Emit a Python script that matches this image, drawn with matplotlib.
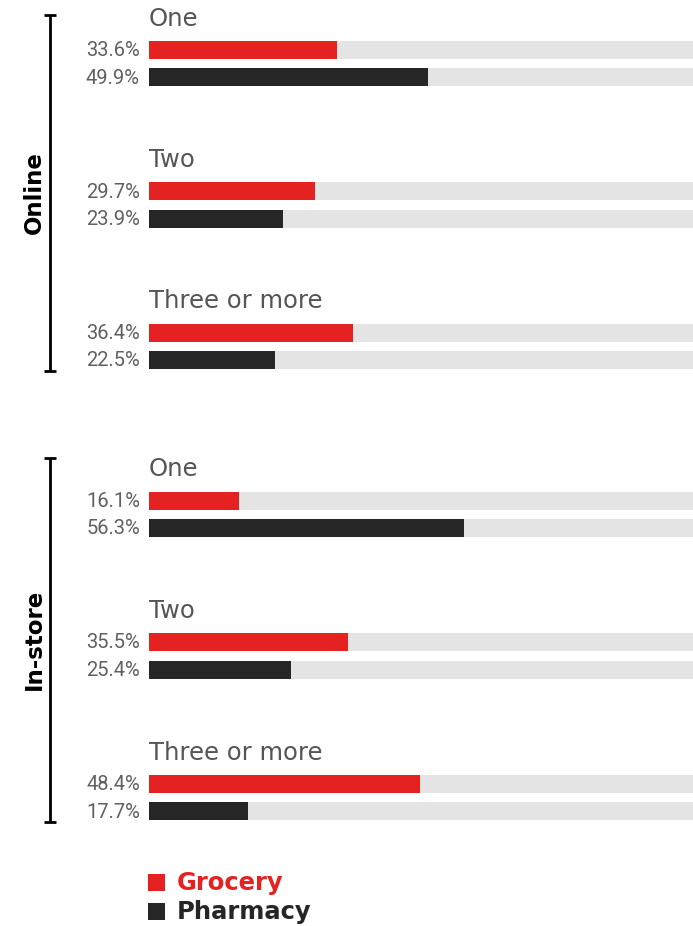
import matplotlib.pyplot as plt

# data
sections = ["Online", "In-store"]
groups = ["One", "Two", "Three or more"]
series = ["Grocery", "Pharmacy"]
grocery = [[33.6, 29.7, 36.4], [16.1, 35.5, 48.4]]
pharmacy = [[49.9, 23.9, 22.5], [56.3, 25.4, 17.7]]

colors = {"Grocery": "#E52222", "Pharmacy": "#262626"}
bg = "#E4E4E4"
grey = "#555555"

# layout in pixels (figure is 693 x 926 at dpi 100)
W, H = 693, 926
y0 = 49.5          # centre of the first bar
pair_gap = 27.5    # grocery -> pharmacy
group_step = 141.5
section_step = 451
bar_h = 18
x_left = 149
px_per_pct = 5.6

fig = plt.figure(figsize=(W / 100, H / 100), dpi=100)
ax = fig.add_axes([x_left / W, 0, 1 - x_left / W, 1])
ax.set_xlim(0, (W - x_left) / px_per_pct)
ax.set_ylim(H, 0)
ax.axis("off")

# overlay axes in pixel coordinates for labels / brackets
ov = fig.add_axes([0, 0, 1, 1])
ov.set_xlim(0, W)
ov.set_ylim(H, 0)
ov.axis("off")

narrow = ["Roboto", "DejaVu Sans"]

for s, sec in enumerate(sections):
    for g, grp in enumerate(groups):
        yc = y0 + s * section_step + g * group_step
        ov.text(x_left, yc - 31, grp, fontsize=17.5, color=grey, va="center",
                ha="left", family="DejaVu Sans")
        vals = [grocery[s][g], pharmacy[s][g]]
        for k, name in enumerate(series):
            y = yc + k * pair_gap
            ax.barh(y, 100, height=bar_h, color=bg, linewidth=0)
            ax.barh(y, vals[k], height=bar_h, color=colors[name], linewidth=0)
            ov.text(140, y + 1, f"{vals[k]}%", fontsize=14.5, color="#606060",
                    ha="right", va="center", family=narrow)
    # bracket
    first = y0 + s * section_step
    last = first + 2 * group_step + pair_gap
    top = first - (34.5 if s == 0 else 43)
    bot = last + 11
    ov.plot([50, 50], [top, bot], color="black", lw=2, solid_capstyle="butt")
    ov.plot([44, 56], [top, top], color="black", lw=2, solid_capstyle="butt")
    ov.plot([44, 56], [bot, bot], color="black", lw=2, solid_capstyle="butt")
    ov.text(34, (top + bot) / 2, sec, rotation=90, fontsize=16.5, fontweight="heavy",
            ha="center", va="center", color="black")

# legend
for k, name in enumerate(series):
    yl = 883 + k * 29
    ov.add_patch(plt.Rectangle((148, yl - 9), 17, 17, color=colors[name], lw=0))
    ov.text(177, yl, name, fontsize=17.5, fontweight="heavy", color=colors[name],
            va="center", ha="left")

fig.savefig("out.png", dpi=100)
